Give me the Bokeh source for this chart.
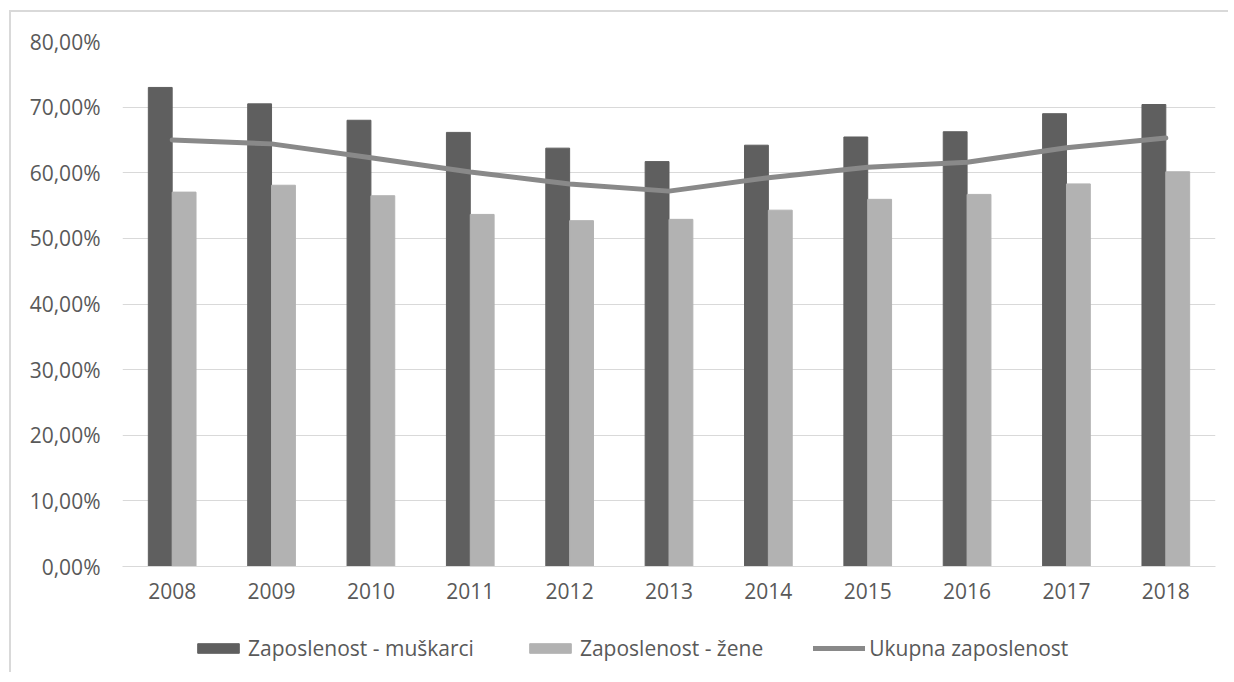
from bokeh.plotting import figure
from bokeh.layouts import column
from bokeh.models import (ColumnDataSource, FactorRange, Range1d, FixedTicker,
                          CustomJSTickFormatter, Legend, LegendItem)
from bokeh.transform import dodge
from bokeh.embed import file_html
from bokeh.resources import INLINE

years = ["2008", "2009", "2010", "2011", "2012", "2013", "2014", "2015", "2016", "2017", "2018"]
men = [73.0, 70.5, 68.0, 66.15, 63.75, 61.7, 64.2, 65.45, 66.25, 69.0, 70.4]
women = [57.05, 58.1, 56.5, 53.65, 52.7, 52.9, 54.3, 55.95, 56.7, 58.3, 60.15]
total = [65.0, 64.4, 62.3, 60.1, 58.3, 57.2, 59.25, 60.85, 61.6, 63.8, 65.3]
y_ticks = [0, 10, 20, 30, 40, 50, 60, 70, 80]
labels = ["Zaposlenost - muškarci", "Zaposlenost - žene", "Ukupna zaposlenost"]

FONT = "Open Sans"
TXT = "#595959"
GRID = "#d9d9d9"
C_MEN = "#5f5f5f"
C_WOMEN = "#b2b2b2"
C_TOT = "#898989"
NAN = float("nan")

src = ColumnDataSource(dict(year=years, men=men, women=women, total=total))

p = figure(width=1217, height=608, output_backend="svg", toolbar_location=None,
           x_range=FactorRange(*years, range_padding=0), y_range=Range1d(0, 80),
           min_border_left=111, min_border_right=13, min_border_top=29, min_border_bottom=54)
p.outline_line_color = None
p.background_fill_color = "white"
p.border_fill_color = "white"

p.vbar(x=dodge("year", -0.12, range=p.x_range), top="men", width=0.24, source=src,
       fill_color=C_MEN, line_color=C_MEN)
p.vbar(x=dodge("year", 0.12, range=p.x_range), top="women", width=0.24, source=src,
       fill_color=C_WOMEN, line_color=C_WOMEN)
p.line(x="year", y="total", source=src, line_color=C_TOT, line_width=5,
       line_cap="round", line_join="round")

p.xgrid.grid_line_color = None
p.ygrid.grid_line_color = GRID
p.ygrid.grid_line_width = 1
p.yaxis.ticker = FixedTicker(ticks=y_ticks)
p.yaxis.formatter = CustomJSTickFormatter(code="return tick.toFixed(2).replace('.', ',') + '%';")

for ax in (p.xaxis[0], p.yaxis[0]):
    ax.major_tick_line_color = None
    ax.minor_tick_line_color = None
    ax.major_tick_out = 0
    ax.major_tick_in = 0
    ax.major_label_text_font = FONT
    ax.major_label_text_font_size = "21px"
    ax.major_label_text_color = TXT
p.yaxis.axis_line_color = None
p.yaxis.major_label_standoff = 22
p.xaxis.axis_line_color = GRID
p.xaxis.major_label_standoff = 16

# legend strip (its frame is aligned with the main plot's frame in the column)
q = figure(width=1217, height=52, output_backend="svg", toolbar_location=None,
           x_range=Range1d(0, 1), y_range=Range1d(0, 1), x_axis_type=None, y_axis_type=None,
           min_border_left=0, min_border_right=0, min_border_top=0, min_border_bottom=0)
q.outline_line_color = None
q.grid.grid_line_color = None
q.background_fill_color = "white"
q.border_fill_color = "white"
g_men = q.vbar(x=[NAN], top=[NAN], width=0.1, fill_color=C_MEN, line_color=C_MEN)
g_women = q.vbar(x=[NAN], top=[NAN], width=0.1, fill_color=C_WOMEN, line_color=C_WOMEN)
g_tot = q.line(x=[NAN, NAN], y=[NAN, NAN], line_color=C_TOT, line_width=5, line_cap="round")

legend = Legend(items=[LegendItem(label=labels[0], renderers=[g_men]),
                       LegendItem(label=labels[1], renderers=[g_women]),
                       LegendItem(label=labels[2], renderers=[g_tot])],
                orientation="horizontal", location=(70, 10),
                glyph_width=52, glyph_height=12, label_standoff=4, spacing=50,
                padding=0, margin=0, border_line_color=None, background_fill_alpha=0,
                label_text_font=FONT, label_text_font_size="21px", label_text_color=TXT)
q.add_layout(legend, "center")

layout = column(p, q, spacing=0)
layout.styles = {"border-top": "2px solid #d9d9d9", "border-left": "2px solid #d9d9d9",
                 "margin-left": "9px", "margin-top": "10px"}

open("out.html", "w").write(file_html(layout, INLINE))
